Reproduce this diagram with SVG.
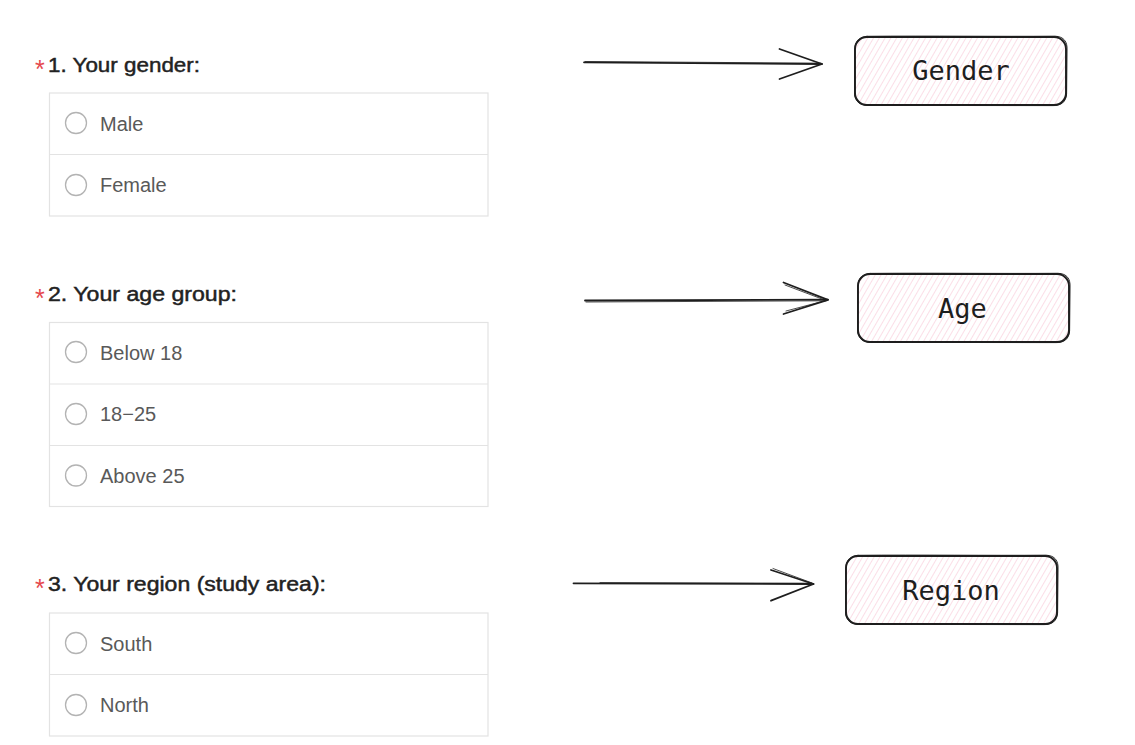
<svg xmlns="http://www.w3.org/2000/svg" width="1135" height="745" viewBox="0 0 1135 745">
<defs>
<style>
.q{font-family:"Liberation Sans",Arial,sans-serif;font-size:20px;fill:#222;stroke:#222;stroke-width:0.45}
.star{font-family:"Liberation Sans",Arial,sans-serif;font-size:25px;fill:#e5484d}
.opt{font-family:"Liberation Sans",Arial,sans-serif;font-size:20px;fill:#595959}
.frame{fill:#fff;stroke:#e3e3e3;stroke-width:1.2}
.sep{stroke:#e3e3e3;stroke-width:1.2}
.radio{fill:#fff;stroke:#b3b3b3;stroke-width:1.3}
.sk{fill:none;stroke:#1e1e1e;stroke-linecap:round;stroke-linejoin:round}
.lbl{font-family:"DejaVu Sans Mono","Liberation Mono",monospace;font-size:27px;fill:#1e1e1e;text-anchor:middle}
</style>
<pattern id="hatch" patternUnits="userSpaceOnUse" width="5" height="5" patternTransform="rotate(30)">
<line x1="0" y1="0" x2="0" y2="5" stroke="#f7c3d3" stroke-width="1.1"/>
</pattern>
</defs>
<rect width="1135" height="745" fill="#fff"/>

<g id="q1">
<text class="star" x="35" y="77.5">*</text>
<text class="q" x="48" y="72" textLength="152" lengthAdjust="spacingAndGlyphs">1. Your gender:</text>
<rect class="frame" x="49.5" y="93" width="438.5" height="123"/>
<line class="sep" x1="49.5" y1="154.5" x2="488" y2="154.5"/>
<circle class="radio" cx="76" cy="123" r="10.5"/>
<text class="opt" x="100" y="130.5">Male</text>
<circle class="radio" cx="76" cy="185" r="10.5"/>
<text class="opt" x="100" y="192">Female</text>
</g>

<g id="q2">
<text class="star" x="35" y="306.5">*</text>
<text class="q" x="48" y="301" textLength="189" lengthAdjust="spacingAndGlyphs">2. Your age group:</text>
<rect class="frame" x="49.5" y="322.5" width="438.5" height="184"/>
<line class="sep" x1="49.5" y1="384" x2="488" y2="384"/>
<line class="sep" x1="49.5" y1="445.5" x2="488" y2="445.5"/>
<circle class="radio" cx="76" cy="352" r="10.5"/>
<text class="opt" x="100" y="359.5">Below 18</text>
<circle class="radio" cx="76" cy="414" r="10.5"/>
<text class="opt" x="100" y="421">18−25</text>
<circle class="radio" cx="76" cy="475.5" r="10.5"/>
<text class="opt" x="100" y="483">Above 25</text>
</g>

<g id="q3">
<text class="star" x="35" y="596.5">*</text>
<text class="q" x="48" y="591" textLength="278" lengthAdjust="spacingAndGlyphs">3. Your region (study area):</text>
<rect class="frame" x="49.5" y="613" width="438.5" height="123"/>
<line class="sep" x1="49.5" y1="674.5" x2="488" y2="674.5"/>
<circle class="radio" cx="76" cy="643" r="10.5"/>
<text class="opt" x="100" y="650.5">South</text>
<circle class="radio" cx="76" cy="705" r="10.5"/>
<text class="opt" x="100" y="712">North</text>
</g>

<g id="gender">
<rect x="855" y="37" width="211" height="68" rx="12" fill="url(#hatch)"/>
<rect class="sk" x="855" y="37" width="211" height="68" rx="12" stroke-width="1.9"/>
<path class="sk" d="M867 36.3 C930 35.8 1000 36.6 1055 36.2 C1064 36.5 1067.5 42 1067 50 L1066.6 94 C1066 102 1061 105.8 1053 105.6 L868 105.4 C859 105.6 854.2 100 854.5 92 L854.8 49 C855 41 860 36.6 867 36.3" stroke-width="1"/>
<text class="lbl" x="961" y="80">Gender</text>
</g>

<g id="age">
<rect x="858" y="274" width="211" height="68" rx="12" fill="url(#hatch)"/>
<rect class="sk" x="858" y="274" width="211" height="68" rx="12" stroke-width="1.9"/>
<path class="sk" d="M870 273.4 C930 272.9 1000 273.7 1058 273.3 C1067 273.6 1070.5 279 1070 287 L1069.6 331 C1069 339 1064 342.8 1056 342.6 L871 342.4 C862 342.6 857.2 337 857.5 329 L857.8 286 C858 278 863 273.7 870 273.4" stroke-width="1"/>
<text class="lbl" x="962.5" y="318">Age</text>
</g>

<g id="region">
<rect x="846" y="556" width="211" height="68" rx="12" fill="url(#hatch)"/>
<rect class="sk" x="846" y="556" width="211" height="68" rx="12" stroke-width="1.9"/>
<path class="sk" d="M858 555.3 C920 554.8 990 555.6 1046 555.2 C1055 555.5 1058.5 561 1058 569 L1057.6 613 C1057 621 1052 624.8 1044 624.6 L859 624.4 C850 624.6 845.2 619 845.5 611 L845.8 568 C846 560 851 555.6 858 555.3" stroke-width="1"/>
<text class="lbl" x="951" y="600">Region</text>
</g>

<g id="connectors">
<path class="sk" d="M584 62.3 L822 64" stroke-width="1.8"/>
<path class="sk" d="M585 61.5 L821 63.2" stroke-width="0.8"/>
<path class="sk" d="M779.5 49 L822 64 L779.5 79" stroke-width="1.8"/>

<path class="sk" d="M585 300.5 L828 299.6" stroke-width="1.8"/>
<path class="sk" d="M586 302 L826 300.8" stroke-width="0.8"/>
<path class="sk" d="M783.5 282.5 L828 299.8 L783.5 314" stroke-width="1.8"/>
<path class="sk" d="M785 285 L826 300.5 L786 311" stroke-width="0.8"/>

<path class="sk" d="M573.5 583.3 L813.5 584" stroke-width="1.8"/>
<path class="sk" d="M600 582.6 L812 583.2" stroke-width="0.8"/>
<path class="sk" d="M771 570 L813.5 584 L771 600.7" stroke-width="1.8"/>
<path class="sk" d="M773 568.5 L812 583" stroke-width="0.8"/>
</g>
</svg>
